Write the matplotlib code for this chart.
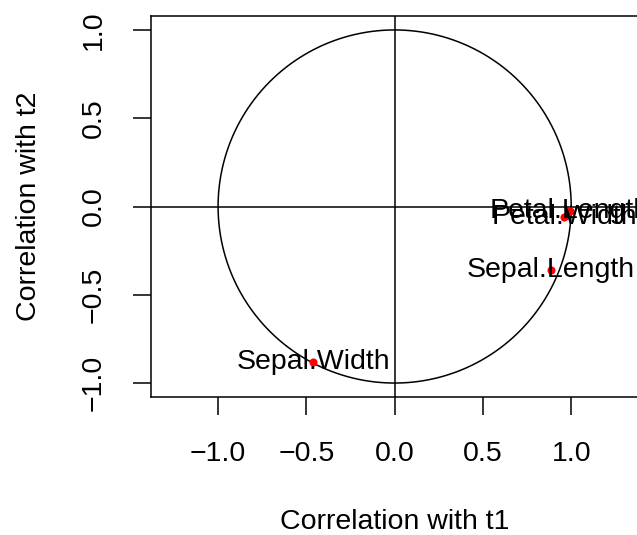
import numpy as np
import matplotlib
matplotlib.use("Agg")
import matplotlib.pyplot as plt

plt.rcParams['font.family'] = ['Liberation Sans', 'DejaVu Sans']
plt.rcParams['axes.unicode_minus'] = True

variables = ["Sepal.Length", "Sepal.Width", "Petal.Length", "Petal.Width"]
cor_t1 = [0.885, -0.461, 0.993, 0.959]
cor_t2 = [-0.358, -0.881, -0.023, -0.062]
ticks = [-1.0, -0.5, 0.0, 0.5, 1.0]
tick_labels = ["\u22121.0", "\u22120.5", "0.0", "0.5", "1.0"]

W, H = 637, 535
fig = plt.figure(figsize=(W / 100, H / 100), dpi=100)
left_px, top_px, bottom_px = 151, 16, 397
xmin, xmax = -1.38, 1.38
ymin, ymax = -1.079, 1.079
scale = (bottom_px - top_px) / (ymax - ymin)
width_px = (xmax - xmin) * scale
ax = fig.add_axes([left_px / W, (H - bottom_px) / H, width_px / W, (bottom_px - top_px) / H])
ax.set_xlim(xmin, xmax)
ax.set_ylim(ymin, ymax)

fs = 20.5
theta = np.linspace(0, 2 * np.pi, 400)
ax.plot(np.cos(theta), np.sin(theta), color='black', lw=1.1)
ax.axhline(0, color='black', lw=1.1)
ax.axvline(0, color='black', lw=1.1)
ax.scatter(cor_t1, cor_t2, s=34, color='red', zorder=3, linewidths=0)
for name, x, y in zip(variables, cor_t1, cor_t2):
    ax.text(x, y, name, ha='center', va='center', fontsize=fs, zorder=4)

for s in ax.spines.values():
    s.set_linewidth(1.1)
ax.set_xticks(ticks)
ax.set_xticklabels(tick_labels)
ax.set_yticks(ticks)
ax.set_yticklabels(tick_labels, rotation=90, va='center')
ax.tick_params(axis='both', length=13, width=1.1, labelsize=fs, pad=19)
ax.set_xlabel("Correlation with t1", fontsize=fs, labelpad=30)
ax.set_ylabel("Correlation with t2", fontsize=fs, labelpad=28)

fig.savefig("out.png", dpi=100)
